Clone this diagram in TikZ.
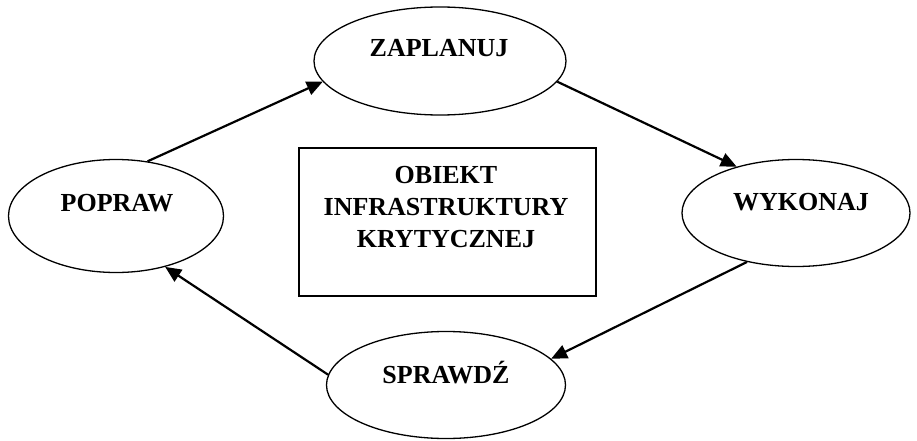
\documentclass[tikz,border=0pt]{standalone}
\usepackage{fontspec}
\setmainfont{Liberation Serif}
\usetikzlibrary{shapes.geometric,arrows.meta}
\begin{document}
\begin{tikzpicture}[x=1pt,y=-1pt,
  ell/.style={draw,line width=1.3pt,ellipse,inner sep=0pt},
  box/.style={draw,line width=1.3pt,rectangle,inner sep=0pt},
  lbl/.style={font=\fontsize{26}{32}\selectfont\bfseries,inner sep=0pt,anchor=base},
  conn/.style={line width=2.2pt,-{Triangle[length=16pt,width=14pt]}}]
\useasboundingbox (0,0) rectangle (917,441);
\node[ell,minimum width=252pt,minimum height=108pt] (zap) at (440,61) {};
\node[ell,minimum width=215pt,minimum height=113pt] (pop) at (116,216) {};
\node[ell,minimum width=228pt,minimum height=107pt] (wyk) at (796,213) {};
\node[ell,minimum width=239pt,minimum height=107pt] (spr) at (446,385) {};
\node[box,minimum width=297pt,minimum height=148pt] (obj) at (447.5,222) {};
\node[lbl] (tzap) at (439,57) {ZAPLANUJ};
\node[lbl] (tpop) at (117,211) {POPRAW};
\node[lbl] (twyk) at (801,210) {WYKONAJ};
\node[lbl] (tspr) at (446,383) {SPRAWDŹ};
\node[lbl] (tobj1) at (446,183) {OBIEKT};
\node[lbl] (tobj2) at (446,215) {INFRASTRUKTURY};
\node[lbl] (tobj3) at (446,247) {KRYTYCZNEJ};
\draw[conn] (pop.60) -- (zap.190);
\draw[conn] (zap.350) -- (wyk.142);
\draw[conn] (wyk.225) -- (spr.14);
\draw[conn] (spr.175) -- (pop.314);
\end{tikzpicture}
\end{document}
